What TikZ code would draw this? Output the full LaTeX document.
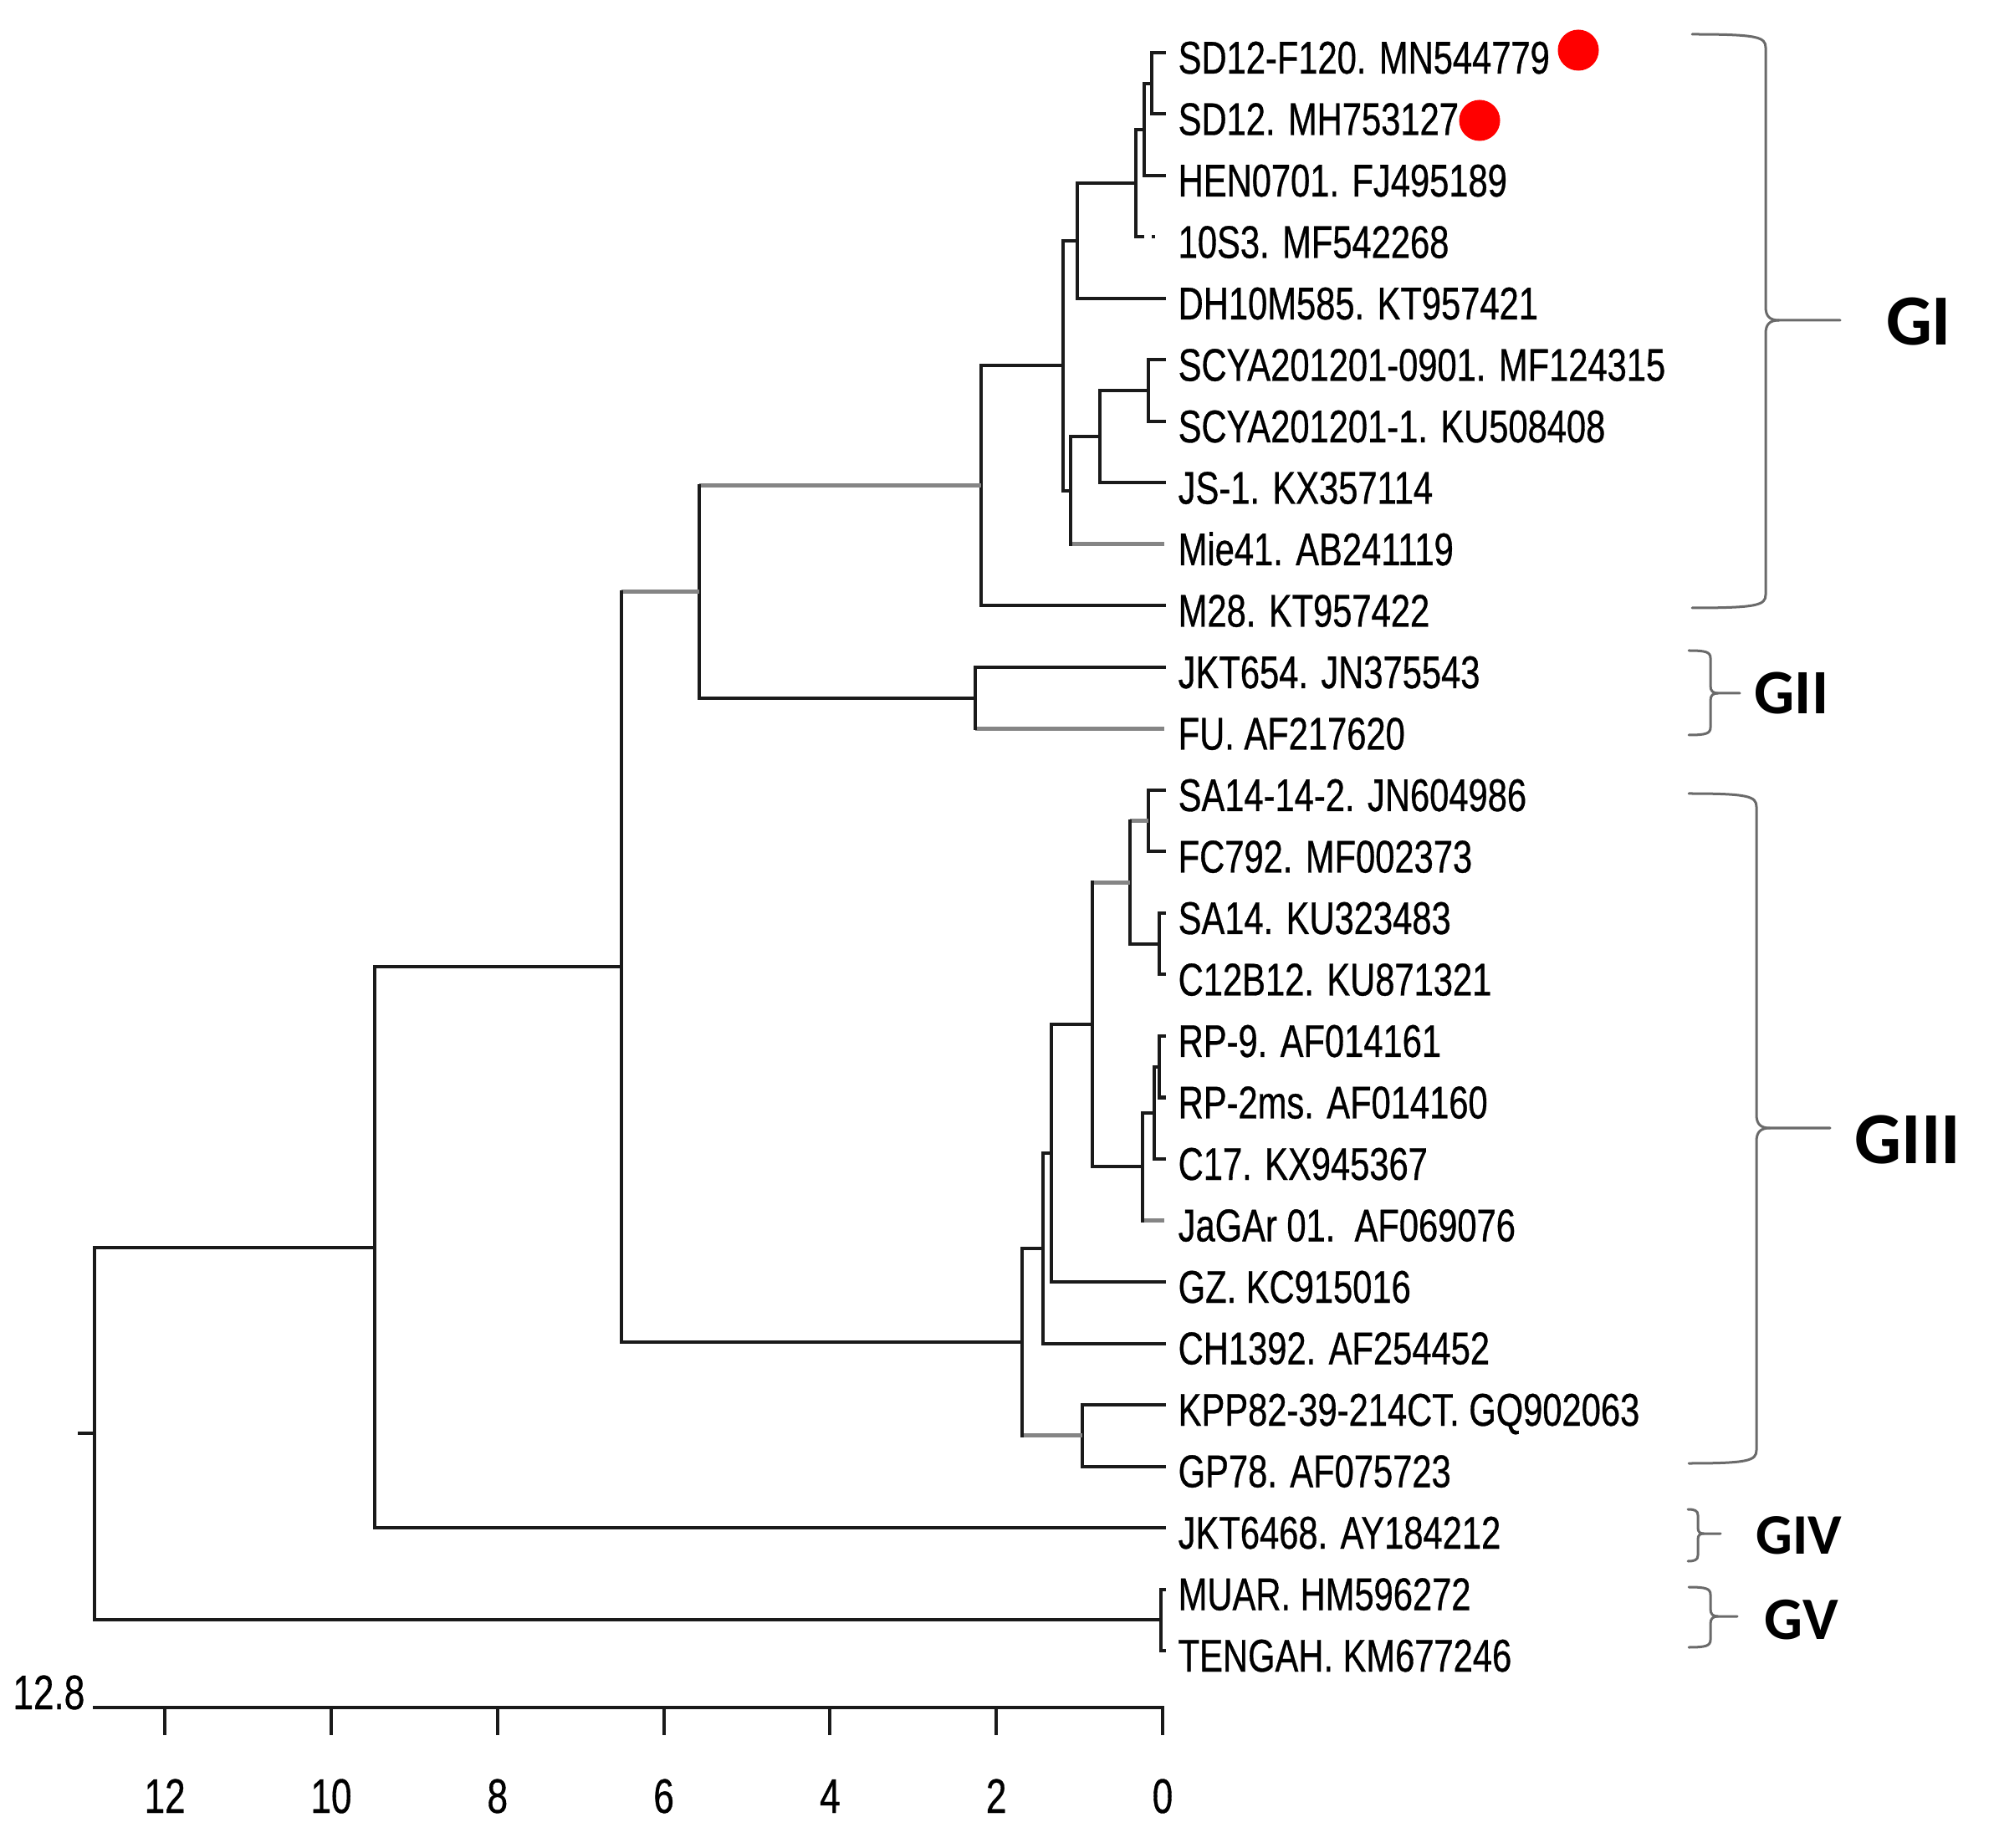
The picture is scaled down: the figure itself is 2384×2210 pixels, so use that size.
\documentclass[tikz,border=0pt]{standalone}
\usepackage{fontspec}
\newfontfamily\leaffont[FakeStretch=0.76,FakeBold=0.6]{Liberation Sans}
\newfontfamily\grpfont{Carlito}
\definecolor{brk}{HTML}{1A1A1A}
\definecolor{brgray}{HTML}{858585}
\definecolor{bracec}{HTML}{6A6A6A}
\definecolor{dotred}{HTML}{FF0000}
\tikzset{
  br/.style={line width=0.04cm, draw=brk, line cap=rect},
  brg/.style={line width=0.05cm, draw=brgray, line cap=butt},
  dstub/.style={line width=0.04cm, draw=brk, dash pattern=on 0.10cm off 0.09cm on 0.04cm},
  leaf/.style={font=\leaffont\fontsize{15.6}{18}\selectfont, inner sep=0pt, anchor=base west, text=black},
  tick/.style={font=\leaffont\fontsize{16.5}{19}\selectfont, inner sep=0pt, anchor=base, text=black},
  grp/.style={font=\grpfont\bfseries, inner sep=0pt, anchor=center, text=black},
  reddot/.style={circle, fill=dotred, draw=none, minimum size=0.49cm, inner sep=0pt},
  brc/.style={line width=0.03cm, draw=bracec, line cap=round, line join=round}
}
\newcommand\clade[5]{%
  \draw[#3] (#1 |- #2) -- (#2);
  \draw[#5] (#1 |- #4) -- (#4);
  \draw[br] (#1 |- #2) -- (#1 |- #4);}
% xl xv xt yt ym yb r
\newcommand\grpbrace[7]{%
  \draw[brc] (#1,#4) .. controls ({#2-0.6*#7},#4) and (#2,{#4+0.2*#7}) .. (#2,{#4+#7})
     -- (#2,{#5-#7}) .. controls (#2,{#5-0.3*#7}) and ({#2+0.3*#7},#5) .. ({#2+#7},#5) -- (#3,#5);
  \draw[brc] ({#2+#7},#5) .. controls ({#2+0.3*#7},#5) and (#2,{#5+0.3*#7}) .. (#2,{#5+#7})
     -- (#2,{#6-#7}) .. controls (#2,{#6-0.2*#7}) and ({#2-0.6*#7},#6) .. (#1,#6);}
\begin{document}
\begin{tikzpicture}[x=0.01cm, y=-0.01cm]
\useasboundingbox (0,0) rectangle (2384,2210);

% ---- leaf tips
\coordinate (l1) at (1392,63);
\coordinate (l2) at (1392,136.5);
\coordinate (l3) at (1392,210);
\coordinate (l4) at (1381,283.5);
\coordinate (l5) at (1392,357);
\coordinate (l6) at (1392,430.5);
\coordinate (l7) at (1392,504);
\coordinate (l8) at (1392,577.5);
\coordinate (l9) at (1392,651);
\coordinate (l10) at (1392,724.5);
\coordinate (l11) at (1392,798);
\coordinate (l12) at (1392,871.5);
\coordinate (l13) at (1392,945);
\coordinate (l14) at (1392,1018.5);
\coordinate (l15) at (1392,1092);
\coordinate (l16) at (1392,1165.5);
\coordinate (l17) at (1392,1239);
\coordinate (l18) at (1392,1312.5);
\coordinate (l19) at (1392,1386);
\coordinate (l20) at (1392,1459.5);
\coordinate (l21) at (1392,1533);
\coordinate (l22) at (1392,1606.5);
\coordinate (l23) at (1392,1680);
\coordinate (l24) at (1392,1753.5);
\coordinate (l25) at (1392,1827);
\coordinate (l26) at (1392,1900.5);
\coordinate (l27) at (1392,1974);

% ---- internal nodes
\coordinate (P) at (1377,99.75);
\coordinate (Q) at (1368,154.875);
\coordinate (R) at (1358,219.19);
\coordinate (S) at (1288,288.09);
\coordinate (T) at (1373,467.25);
\coordinate (U) at (1315,522.375);
\coordinate (V) at (1280,586.69);
\coordinate (G) at (1271,437.39);
\coordinate (E) at (1173,580.95);
\coordinate (F) at (1166,834.75);
\coordinate (C) at (836,707.85);
\coordinate (L1) at (1373,981.75);
\coordinate (L2) at (1386,1128.75);
\coordinate (M) at (1351,1055.25);
\coordinate (N1) at (1386,1275.75);
\coordinate (N2) at (1380,1330.875);
\coordinate (N3) at (1366,1395.19);
\coordinate (J) at (1306,1225.22);
\coordinate (I) at (1257,1379.11);
\coordinate (H) at (1247,1492.8);
\coordinate (K) at (1294,1716.75);
\coordinate (D) at (1222,1604.78);
\coordinate (B) at (743,1156.3);
\coordinate (A) at (448,1491.65);
\coordinate (W) at (1388,1937.25);
\coordinate (Root) at (113,1714.45);
\coordinate (rs) at (95,1714.45);

% ---- branches
\clade{P}{l1}{br}{l2}{br}
\clade{Q}{P}{br}{l3}{br}
\clade{R}{Q}{br}{l4}{dstub}
\clade{S}{R}{br}{l5}{br}
\clade{T}{l6}{br}{l7}{br}
\clade{U}{T}{br}{l8}{br}
\clade{V}{U}{br}{l9}{brg}
\clade{G}{S}{br}{V}{br}
\clade{E}{G}{br}{l10}{br}
\clade{F}{l11}{br}{l12}{brg}
\clade{C}{E}{brg}{F}{br}
\clade{L1}{l13}{br}{l14}{br}
\clade{L2}{l15}{br}{l16}{br}
\clade{M}{L1}{brg}{L2}{br}
\clade{N1}{l17}{br}{l18}{br}
\clade{N2}{N1}{br}{l19}{br}
\clade{N3}{N2}{br}{l20}{brg}
\clade{J}{M}{brg}{N3}{br}
\clade{I}{J}{br}{l21}{br}
\clade{H}{I}{br}{l22}{br}
\clade{K}{l23}{br}{l24}{br}
\clade{D}{H}{br}{K}{brg}
\clade{B}{C}{brg}{D}{br}
\clade{A}{B}{br}{l25}{br}
\clade{W}{l26}{br}{l27}{br}
\clade{Root}{A}{br}{W}{br}
\draw[br] (rs) -- (Root);

% ---- leaf labels
\node[leaf] (t1) at (1408,88) {SD12-F120. MN544779};
\node[leaf] (t2) at (1408,161.5) {SD12. MH753127};
\node[leaf] (t3) at (1408,235) {HEN0701. FJ495189};
\node[leaf] (t4) at (1408,308.5) {10S3. MF542268};
\node[leaf] (t5) at (1408,382) {DH10M585. KT957421};
\node[leaf] (t6) at (1408,455.5) {SCYA201201-0901. MF124315};
\node[leaf] (t7) at (1408,529) {SCYA201201-1. KU508408};
\node[leaf] (t8) at (1408,602.5) {JS-1. KX357114};
\node[leaf] (t9) at (1408,676) {Mie41. AB241119};
\node[leaf] (t10) at (1408,749.5) {M28. KT957422};
\node[leaf] (t11) at (1408,823) {JKT654. JN375543};
\node[leaf] (t12) at (1408,896.5) {FU. AF217620};
\node[leaf] (t13) at (1408,970) {SA14-14-2. JN604986};
\node[leaf] (t14) at (1408,1043.5) {FC792. MF002373};
\node[leaf] (t15) at (1408,1117) {SA14. KU323483};
\node[leaf] (t16) at (1408,1190.5) {C12B12. KU871321};
\node[leaf] (t17) at (1408,1264) {RP-9. AF014161};
\node[leaf] (t18) at (1408,1337.5) {RP-2ms. AF014160};
\node[leaf] (t19) at (1408,1411) {C17. KX945367};
\node[leaf] (t20) at (1408,1484.5) {JaGAr 01.\ \ AF069076};
\node[leaf] (t21) at (1408,1558) {GZ. KC915016};
\node[leaf] (t22) at (1408,1631.5) {CH1392. AF254452};
\node[leaf] (t23) at (1408,1705) {KPP82-39-214CT. GQ902063};
\node[leaf] (t24) at (1408,1778.5) {GP78. AF075723};
\node[leaf] (t25) at (1408,1852) {JKT6468. AY184212};
\node[leaf] (t26) at (1408,1925.5) {MUAR. HM596272};
\node[leaf] (t27) at (1408,1999) {TENGAH. KM677246};

% ---- red markers
\node[reddot] (d1) at (1887,60) {};
\node[reddot] (d2) at (1769,144) {};

% ---- group braces and labels
\grpbrace{2023}{2111}{2200}{41}{383}{727}{16}
\grpbrace{2019}{2045}{2080}{778}{829}{879}{9}
\grpbrace{2019}{2100}{2188}{949}{1349}{1750}{16}
\grpbrace{2018}{2030}{2057}{1805}{1834}{1867}{7}
\grpbrace{2019}{2045}{2077}{1898}{1933}{1970}{9}
\node[grp, font=\grpfont\bfseries\fontsize{24.5}{28}\selectfont] (gI) at (2294,385) {GI};
\node[grp, font=\grpfont\bfseries\fontsize{21.5}{25}\selectfont] (gII) at (2142,829) {GII};
\node[grp, font=\grpfont\bfseries\fontsize{25}{29}\selectfont] (gIII) at (2281,1363) {GIII};
\node[grp, font=\grpfont\bfseries\fontsize{19.5}{23}\selectfont] (gIV) at (2151,1836) {GIV};
\node[grp, font=\grpfont\bfseries\fontsize{20.5}{24}\selectfont] (gV) at (2154,1937) {GV};

% ---- scale axis
\coordinate (axL) at (113,2042);
\coordinate (ax0) at (1390,2042);
\draw[br] (axL) -- (ax0);
\foreach \v in {0,2,4,6,8,10,12}{
  \coordinate (tk\v) at ({1390-99.4*\v},2042);
  \draw[br] (tk\v) -- ++(0,31);
  \node[tick] (tl\v) at ({1390-99.4*\v},2168) {\v};
}
\node[tick, anchor=base east] (sc) at (102,2044) {12.8};
\end{tikzpicture}
\end{document}
